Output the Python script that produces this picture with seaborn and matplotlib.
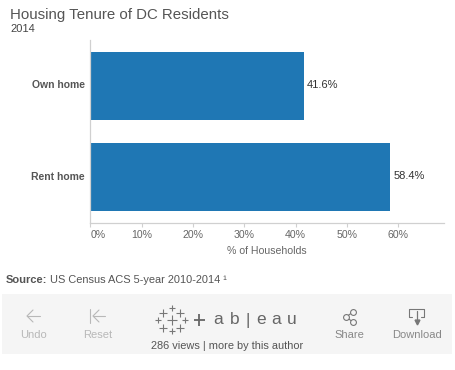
import matplotlib
matplotlib.use("Agg")
import matplotlib.pyplot as plt
import matplotlib.transforms as mtrans
import pandas as pd
import seaborn as sns

# === Data ===
tenure = ["Own home", "Rent home"]
pct_households = [41.6, 58.4]
pct_labels = ["41.6%", "58.4%"]
x_ticks = [0, 10, 20, 30, 40, 50, 60]
x_tick_labels = ["0%", "10%", "20%", "30%", "40%", "50%", "60%"]

df = pd.DataFrame({"tenure": tenure, "pct": pct_households})

W, H = 456, 370
sns.set_theme(style="white")
plt.rcParams["font.family"] = ["Liberation Sans", "DejaVu Sans"]

fig = plt.figure(figsize=(W / 100, H / 100), dpi=100)

# overlay in pixel coordinates for the toolbar furniture
bg = fig.add_axes([0, 0, 1, 1])
bg.set_xlim(0, W)
bg.set_ylim(H, 0)
bg.axis("off")

# === Chart ===
ax = fig.add_axes([90.5 / W, 1 - 222.7 / H, (444 - 90.5) / W, (222.7 - 40) / H])
sns.barplot(data=df, x="pct", y="tenure", color="#1f77b4", saturation=1, width=0.747,
            linewidth=0, ax=ax)
ax.set_xlim(0, 68.9)
ax.set_ylim(1.502, -0.505)
ax.set_xticks(x_ticks)
ax.set_xticklabels(x_tick_labels, fontsize=7.6, color="#666666")
zero_label = ax.get_xticklabels()[0]
zero_label.set_ha("left")
zero_label.set_transform(zero_label.get_transform() + mtrans.Affine2D().translate(1.5, 0))
ax.tick_params(axis="x", length=3, width=0.8, color="#d0d0d0", pad=2.4, bottom=True)
ax.tick_params(axis="y", length=0, pad=4)
for lab in ax.get_yticklabels():
    lab.set_fontsize(7.5)
    lab.set_fontweight("bold")
    lab.set_color("#555555")
    lab.set_transform(lab.get_transform() + mtrans.Affine2D().translate(0, 1.5))
ax.set_ylabel("")
ax.set_xlabel("% of Households", fontsize=7.6, color="#666666", labelpad=4)
for side in ["top", "right"]:
    ax.spines[side].set_visible(False)
for side in ["left", "bottom"]:
    ax.spines[side].set_color("#d0d0d0")
    ax.spines[side].set_linewidth(0.9)
ax.patch.set_alpha(0)

for i, v in enumerate(pct_households):
    ax.annotate(pct_labels[i], (v, i), xytext=(2.2, 0.7), textcoords="offset points",
                va="center", fontsize=8, color="#333333")

# === Titles ===
bg.text(10, 15, "Housing Tenure of DC Residents", fontsize=10.8, color="#555555", va="center")
bg.text(10, 29, "2014", fontsize=8, color="#444444", va="center")
bg.text(6, 280, "Source:", fontsize=8, fontweight="bold", color="#555555", va="center")
bg.text(50, 280, "US Census ACS 5-year 2010-2014 ¹", fontsize=7.9, color="#555555", va="center")

# === Toolbar ===
bg.add_patch(plt.Rectangle((2, 294), 450, 60, color="#f5f5f5", lw=0, zorder=0))
for x, name, col in [(34, "Undo", "#b8b8b8"), (98, "Reset", "#b8b8b8"),
                     (349, "Share", "#888888"), (417, "Download", "#888888")]:
    bg.text(x, 335, name, fontsize=8, color=col, ha="center", va="center")
bg.text(227, 346, "286 views | more by this author", fontsize=7.9, color="#555555", ha="center", va="center")

grey = "#b8b8b8"
bg.plot([27, 40], [316, 316], color=grey, lw=0.8)
bg.plot([33, 27, 33], [310, 316, 322], color=grey, lw=0.8)
bg.plot([90, 90], [309, 323], color=grey, lw=0.8)
bg.plot([93, 105], [316, 316], color=grey, lw=0.8)
bg.plot([99, 93, 99], [310, 316, 322], color=grey, lw=0.8)

# share icon
dk = "#777777"
bg.plot([353, 346, 353], [312, 317, 322], color=dk, lw=0.8, zorder=2)
for cx, cy in [(353, 312), (346, 317), (353, 322)]:
    bg.plot(cx, cy, "o", ms=4.2, mfc="#f5f5f5", mec=dk, mew=0.8, zorder=3)

# download icon
bg.plot([412, 409, 409, 424, 424, 421], [317, 317, 309, 309, 317, 317], color=dk, lw=0.8)
bg.plot([417, 417], [311, 321], color=dk, lw=0.9)
bg.plot(417, 322, "v", ms=3.5, color=dk)

# logo crosses: x, y, half size
logo_col = "#777777"
crosses = [(172, 320, 5), (172, 308, 3), (172, 331, 3), (158, 320, 3), (185, 320, 3),
           (163, 313, 4), (180, 313, 4), (163, 328, 4), (180, 328, 4)]
for cx, cy, s in crosses:
    bg.plot([cx - s, cx + s], [cy, cy], color=logo_col, lw=0.8, solid_capstyle="butt")
    bg.plot([cx, cx], [cy - s, cy + s], color=logo_col, lw=0.8, solid_capstyle="butt")
bg.plot([194, 205], [320, 320], color="#666666", lw=1.3, solid_capstyle="butt")
bg.plot([199.5, 199.5], [314, 326], color="#666666", lw=1.3, solid_capstyle="butt")
for x, ch in zip([218, 235, 248, 261, 276, 292], ["a", "b", "|", "e", "a", "u"]):
    bg.text(x, 320, ch, fontsize=12.5, color="#666666", ha="center", va="center")

fig.savefig("out.png", dpi=100)
